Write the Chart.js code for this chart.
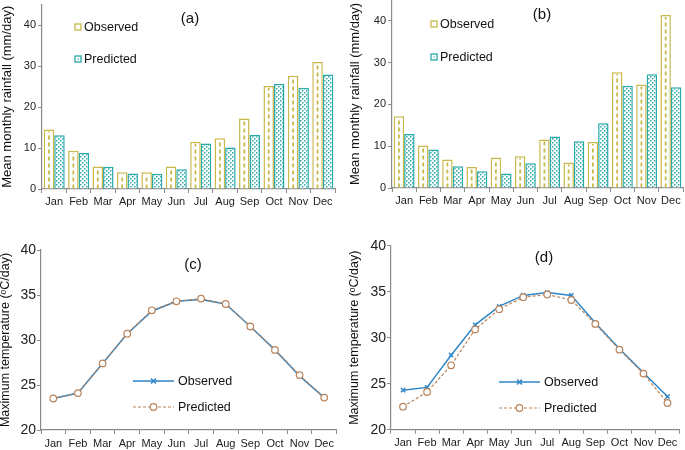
<!DOCTYPE html>
<html>
<head>
<meta charset="utf-8">
<script src="https://cdn.jsdelivr.net/npm/chart.js@4.4.0/dist/chart.umd.min.js"></script>
<style>
  body { margin: 0; background: #fff; width: 685px; height: 450px; position: relative; overflow: hidden; }
  .panel { position: absolute; }
</style>
</head>
<body>
<div class="panel" style="left:0;top:0"><canvas id="chartA" width="342" height="215"></canvas></div>
<div class="panel" style="left:342px;top:0"><canvas id="chartB" width="343" height="215"></canvas></div>
<div class="panel" style="left:0;top:225px"><canvas id="chartC" width="342" height="225"></canvas></div>
<div class="panel" style="left:342px;top:225px"><canvas id="chartD" width="343" height="225"></canvas></div>
<script>
const months = ['Jan', 'Feb', 'Mar', 'Apr', 'May', 'Jun', 'Jul', 'Aug', 'Sep', 'Oct', 'Nov', 'Dec'];

// mean monthly rainfall (mm/day)
const rainObsA  = [14.5, 9.3, 5.5, 4.1, 4.1, 5.5, 11.5, 12.4, 17.2, 25.1, 27.6, 31.0];
const rainPredA = [13.1, 8.8, 5.4, 3.8, 3.7, 4.8, 11.1, 10.1, 13.2, 25.7, 24.7, 27.9];
const rainObsB  = [17.2, 10.2, 6.8, 5.0, 7.3, 7.6, 11.6, 6.1, 11.0, 27.7, 24.8, 41.4];
const rainPredB = [12.9, 9.2, 5.2, 4.0, 3.5, 5.9, 12.3, 11.2, 15.5, 24.5, 27.2, 24.1];

// maximum temperature (oC/day)
const tempObsC  = [23.5, 24.1, 27.4, 30.7, 33.2, 34.3, 34.5, 34.0, 31.5, 28.9, 26.0, 23.6];
const tempPredC = [23.5, 24.1, 27.4, 30.7, 33.3, 34.3, 34.6, 34.0, 31.5, 28.9, 26.1, 23.6];
const tempObsD  = [24.3, 24.6, 28.1, 31.4, 33.4, 34.6, 34.9, 34.6, 31.6, 28.8, 26.2, 23.6];
const tempPredD = [22.5, 24.1, 27.0, 30.9, 33.1, 34.4, 34.7, 34.1, 31.5, 28.7, 26.1, 22.9];

const seriesNames = ['Observed', 'Predicted'];

const FONT = "'Liberation Sans', Arial, sans-serif";
const obsBarColor = '#c9b84a';
const predBarColor = '#2aa9a9';
const obsLineColor = '#2e86c8';
const predLineColor = '#b9845b';
const axisColor = '#8a8a8a';

Chart.defaults.font.family = FONT;
Chart.defaults.color = '#222';
Chart.defaults.animation = false;

function dotPattern(canvasId, color) {
    const c = document.createElement('canvas');
    c.width = 4; c.height = 4;
    const g = c.getContext('2d');
    g.fillStyle = '#fff';
    g.fillRect(0, 0, 4, 4);
    g.fillStyle = color;
    g.fillRect(0, 0, 1.5, 1.5);
    g.fillRect(2, 2, 1.5, 1.5);
    return document.getElementById(canvasId).getContext('2d').createPattern(c, 'repeat');
}

// force the axis boxes to fixed sizes so the plot areas line up with the reference
function fixWidth(w) {
    return s => { s.width = w; s.paddingTop = 0; s.paddingBottom = 0; };
}
function fixHeight(h) {
    return s => { s.height = h; s.paddingLeft = 0; s.paddingRight = 0; };
}

const panelDecor = {
    id: 'panelDecor',
    afterDatasetsDraw(chart, args, o) {
        if (!o.dashBars) return;
        const ctx = chart.ctx;
        const meta = chart.getDatasetMeta(0);
        ctx.save();
        ctx.strokeStyle = obsBarColor;
        ctx.lineWidth = 1.8;
        ctx.setLineDash([4, 3]);
        meta.data.forEach(b => {
            ctx.beginPath();
            ctx.moveTo(b.x, b.base);
            ctx.lineTo(b.x, b.y + 2);
            ctx.stroke();
        });
        ctx.restore();
    },
    afterDraw(chart, args, o) {
        const ctx = chart.ctx;
        ctx.save();
        ctx.fillStyle = '#111';
        ctx.font = '15px ' + FONT;
        ctx.textAlign = 'center';
        ctx.textBaseline = 'middle';
        ctx.fillText(o.title, o.titleX, o.titleY);

        ctx.font = '12.5px ' + FONT;
        ctx.textAlign = 'left';
        chart.data.datasets.forEach((ds, i) => {
            const y = o.legendY[i];
            if (o.legendKind === 'box') {
                const x = o.legendX;
                ctx.fillStyle = '#fff';
                ctx.fillRect(x, y - 3, 6, 6);
                ctx.strokeStyle = ds.borderColor;
                ctx.lineWidth = 1.3;
                ctx.setLineDash([]);
                ctx.strokeRect(x, y - 3, 6, 6);
                if (i === 1) {
                    ctx.fillStyle = ds.borderColor;
                    ctx.fillRect(x + 2.5, y - 0.5, 1.2, 1.2);
                }
                ctx.fillStyle = '#111';
                ctx.fillText(ds.label, x + 9, y + 0.5);
            } else {
                const x = o.legendX;
                ctx.strokeStyle = ds.borderColor;
                ctx.lineWidth = ds.borderWidth;
                ctx.setLineDash(ds.borderDash || []);
                ctx.beginPath();
                ctx.moveTo(x, y);
                ctx.lineTo(x + 41, y);
                ctx.stroke();
                ctx.setLineDash([]);
                const mx = x + 20.5;
                if (ds.pointStyle === 'crossRot') {
                    ctx.lineWidth = 1.5;
                    ctx.beginPath();
                    ctx.moveTo(mx - 2.5, y - 2.5); ctx.lineTo(mx + 2.5, y + 2.5);
                    ctx.moveTo(mx + 2.5, y - 2.5); ctx.lineTo(mx - 2.5, y + 2.5);
                    ctx.stroke();
                } else {
                    ctx.fillStyle = '#fff';
                    ctx.lineWidth = 1.2;
                    ctx.beginPath();
                    ctx.arc(mx, y, 3.3, 0, Math.PI * 2);
                    ctx.fill();
                    ctx.stroke();
                }
                ctx.fillStyle = '#111';
                ctx.fillText(ds.label, x + 45, y + 0.5);
            }
        });
        ctx.restore();
    }
};

function barChart(id, obs, pred, box, decor) {
    return new Chart(id, {
        type: 'bar',
        plugins: [panelDecor],
        data: {
            labels: months,
            datasets: [
                {
                    label: seriesNames[0],
                    data: obs,
                    backgroundColor: '#fff',
                    borderColor: obsBarColor,
                    borderWidth: 1.5,
                    categoryPercentage: 0.86,
                    barPercentage: 1.0
                },
                {
                    label: seriesNames[1],
                    data: pred,
                    backgroundColor: dotPattern(id, predBarColor),
                    borderColor: predBarColor,
                    borderWidth: 1.5,
                    categoryPercentage: 0.86,
                    barPercentage: 1.0
                }
            ]
        },
        options: {
            responsive: false,
            layout: { padding: { left: 0, top: box.top, right: box.right, bottom: 0 } },
            plugins: {
                legend: { display: false },
                tooltip: { enabled: false },
                panelDecor: decor
            },
            scales: {
                x: {
                    grid: { drawOnChartArea: false, tickLength: 4, color: axisColor, offset: true },
                    border: { color: axisColor, width: 1.2 },
                    ticks: { font: { size: 11 }, padding: 2, maxRotation: 0, autoSkip: false },
                    afterFit: fixHeight(box.bottom)
                },
                y: {
                    min: 0,
                    max: 45,
                    grid: { drawOnChartArea: false, tickLength: 4, color: axisColor },
                    border: { color: axisColor, width: 1.2 },
                    ticks: { stepSize: 10, includeBounds: false, font: { size: 11 }, padding: 2 },
                    title: {
                        display: true,
                        text: 'Mean monthly rainfall (mm/day)',
                        font: { size: 13 },
                        color: '#111',
                        padding: { top: box.titlePad, bottom: 0 }
                    },
                    afterFit: fixWidth(box.left)
                }
            }
        }
    });
}

function lineChart(id, obs, pred, box, decor) {
    return new Chart(id, {
        type: 'line',
        plugins: [panelDecor],
        data: {
            labels: months,
            datasets: [
                {
                    label: seriesNames[0],
                    data: obs,
                    borderColor: obsLineColor,
                    backgroundColor: obsLineColor,
                    borderWidth: 1.5,
                    pointStyle: 'crossRot',
                    pointRadius: 3,
                    pointBorderWidth: 1.5,
                    tension: 0,
                    order: 1
                },
                {
                    label: seriesNames[1],
                    data: pred,
                    borderColor: predLineColor,
                    backgroundColor: '#fff',
                    borderWidth: 1.2,
                    borderDash: [3, 2],
                    pointStyle: 'circle',
                    pointRadius: 3.3,
                    pointBorderWidth: 1.2,
                    tension: 0,
                    order: 0
                }
            ]
        },
        options: {
            responsive: false,
            layout: { padding: { left: 0, top: box.top, right: box.right, bottom: 0 } },
            plugins: {
                legend: { display: false },
                tooltip: { enabled: false },
                panelDecor: decor
            },
            scales: {
                x: {
                    offset: true,
                    grid: { drawOnChartArea: false, tickLength: 4, color: axisColor, offset: true },
                    border: { color: axisColor, width: 1.2 },
                    ticks: { font: { size: 11 }, padding: 3, maxRotation: 0, autoSkip: false },
                    afterFit: fixHeight(box.bottom)
                },
                y: {
                    min: 20,
                    max: 40,
                    grid: { drawOnChartArea: false, tickLength: 4, color: axisColor },
                    border: { color: axisColor, width: 1.2 },
                    ticks: { stepSize: 5, font: { size: 14 }, padding: 1 },
                    title: {
                        display: true,
                        text: 'Maximum temperature (\u1D52C/day)',
                        font: { size: 12.5 },
                        color: '#111',
                        padding: { top: box.titlePad, bottom: 0 }
                    },
                    afterFit: fixWidth(box.left)
                }
            }
        }
    });
}

barChart('chartA', rainObsA, rainPredA,
    { left: 42, top: 4.5, right: 7, bottom: 26, titlePad: 0 },
    { dashBars: true, title: '(a)', titleX: 190, titleY: 19, legendKind: 'box', legendX: 75, legendY: [27, 59] });

barChart('chartB', rainObsB, rainPredB,
    { left: 50, top: 0, right: 2, bottom: 27, titlePad: 5.5 },
    { dashBars: true, title: '(b)', titleX: 200, titleY: 15, legendKind: 'box', legendX: 89, legendY: [24, 57] });

lineChart('chartC', tempObsC, tempPredC,
    { left: 41, top: 25, right: 5, bottom: 20, titlePad: -2 },
    { title: '(c)', titleX: 193, titleY: 40, legendKind: 'line', legendX: 133, legendY: [156, 182] });

lineChart('chartD', tempObsD, tempPredD,
    { left: 49, top: 20.7, right: 2, bottom: 20.3, titlePad: 5.5 },
    { title: '(d)', titleX: 202, titleY: 33, legendKind: 'line', legendX: 157, legendY: [157, 183] });
</script>
</body>
</html>
